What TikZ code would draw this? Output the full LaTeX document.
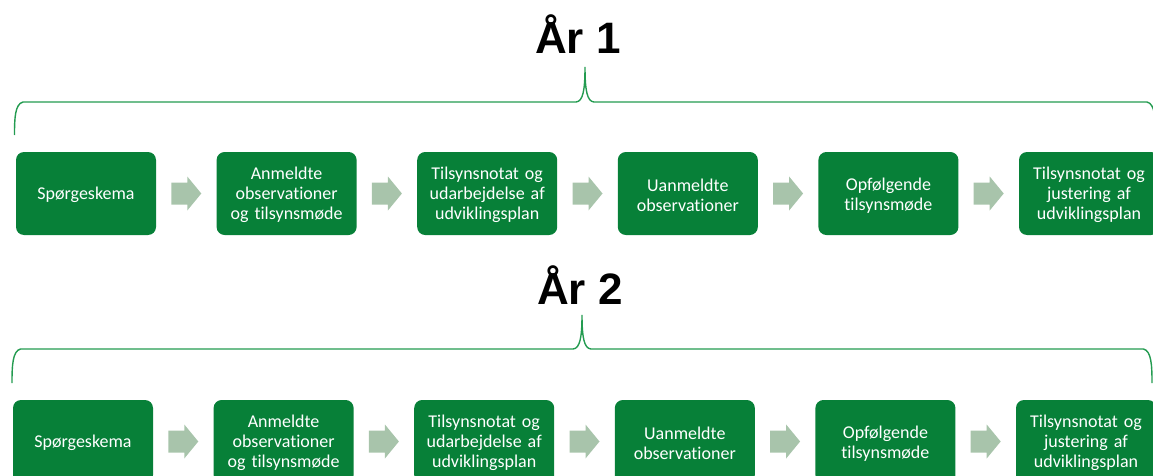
\documentclass[tikz,border=0pt]{standalone}
\usepackage{fontspec}
\setmainfont{Carlito}[Ligatures=NoCommon]
\newfontfamily\titlefont{Liberation Sans}
\usetikzlibrary{calc}
\definecolor{boxgreen}{RGB}{7,128,56}
\definecolor{bracegreen}{RGB}{35,155,80}
\definecolor{arrowgreen}{RGB}{168,196,171}
\tikzset{
  stepbox/.style={fill=boxgreen,rounded corners=8pt,minimum width=140pt,minimum height=83pt,
    text width=134pt,align=center,text=white,inner sep=0pt,
    font=\fontsize{18}{20}\selectfont,execute at begin node={\rule{0pt}{16pt}}},
  yeartitle/.style={anchor=base,font=\titlefont\bfseries\fontsize{44}{48}\selectfont,inner sep=0pt},
  bracestyle/.style={draw=bracegreen,line width=1.4pt},
  blockarrow/.pic={\fill[arrowgreen] (-15,-11) -- (1,-11) -- (1,-17) -- (15,0) -- (1,17) -- (1,11) -- (-15,11) -- cycle;}
}
\begin{document}
\begin{tikzpicture}[x=1pt,y=-1pt]
\useasboundingbox (0,0) rectangle (1153,476);
\clip (0,0) rectangle (1153,476);
% Year 1
\node[yeartitle] (t1) at (578,54) {År 1};
\draw[bracestyle] (14.5,135) .. controls (14.5,118) and (15,104) .. (23,102) -- (576,102)
  .. controls (583,101.5) and (585,90) .. (585,67)
  .. controls (585,90) and (587,101.5) .. (594,102) -- (1147,102)
  .. controls (1155,104) and (1155.5,118) .. (1155.5,135);
\node[stepbox] (a1) at (86,193.5) {Spørgeskema};
\node[stepbox] (a2) at (286.6,193.5) {Anmeldte\\observationer\\og tilsynsmøde};
\node[stepbox] (a3) at (487.2,193.5) {Tilsynsnotat og\\udarbejdelse af\\udviklingsplan};
\node[stepbox] (a4) at (687.8,193.5) {Uanmeldte\\observationer};
\node[stepbox] (a5) at (888.4,193.5) {Opfølgende\\tilsynsmøde};
\node[stepbox] (a6) at (1089,193.5) {Tilsynsnotat og\\justering af\\udviklingsplan};
\pic at ($(a1.east)!0.5!(a2.west)$) {blockarrow};
\pic at ($(a2.east)!0.5!(a3.west)$) {blockarrow};
\pic at ($(a3.east)!0.5!(a4.west)$) {blockarrow};
\pic at ($(a4.east)!0.5!(a5.west)$) {blockarrow};
\pic at ($(a5.east)!0.5!(a6.west)$) {blockarrow};
% Year 2
\node[yeartitle] (t2) at (580,304) {År 2};
\draw[bracestyle] (12,383) .. controls (12,366) and (12.5,351) .. (20.5,349) -- (573,349)
  .. controls (580,348.5) and (582,337) .. (582,315)
  .. controls (582,337) and (584,348.5) .. (591,349) -- (1143.5,349)
  .. controls (1151.5,351) and (1152,366) .. (1152,383);
\node[stepbox] (b1) at (83,441.5) {Spørgeskema};
\node[stepbox] (b2) at (283.6,441.5) {Anmeldte\\observationer\\og tilsynsmøde};
\node[stepbox] (b3) at (484.2,441.5) {Tilsynsnotat og\\udarbejdelse af\\udviklingsplan};
\node[stepbox] (b4) at (684.8,441.5) {Uanmeldte\\observationer};
\node[stepbox] (b5) at (885.4,441.5) {Opfølgende\\tilsynsmøde};
\node[stepbox] (b6) at (1086,441.5) {Tilsynsnotat og\\justering af\\udviklingsplan};
\pic at ($(b1.east)!0.5!(b2.west)$) {blockarrow};
\pic at ($(b2.east)!0.5!(b3.west)$) {blockarrow};
\pic at ($(b3.east)!0.5!(b4.west)$) {blockarrow};
\pic at ($(b4.east)!0.5!(b5.west)$) {blockarrow};
\pic at ($(b5.east)!0.5!(b6.west)$) {blockarrow};
\end{tikzpicture}
\end{document}
